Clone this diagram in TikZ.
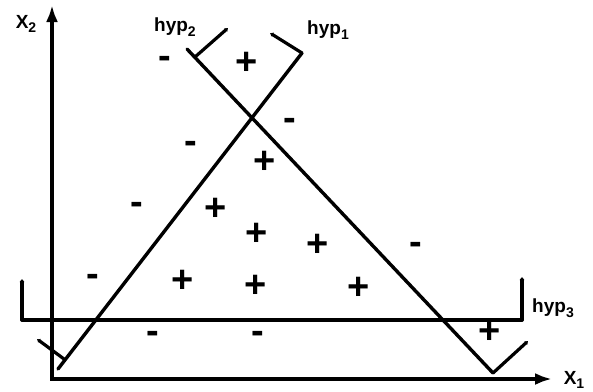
\documentclass[tikz,border=0pt]{standalone}
\usepackage{fontspec}
\setmainfont{Liberation Sans}
\usetikzlibrary{arrows.meta}
\newcommand{\indice}[1]{\raisebox{-4.5pt}{\fontsize{14}{14}\selectfont #1}}
\tikzset{
  eixo/.style={line width=3.4pt, -{Latex[length=17pt,width=12pt]}},
  hiper/.style={line width=3.4pt, line cap=round},
  marca/.style={line width=3.2pt, line cap=round, -{Latex[length=3pt,width=5pt]}},
  rotulo/.style={font=\bfseries\fontsize{19}{21}\selectfont, inner sep=0pt},
  sinal/.style={font=\bfseries\fontsize{38}{38}\selectfont, inner sep=0pt},
}

\begin{document}
\begin{tikzpicture}[x=1pt, y=-1pt]
  \useasboundingbox (0,0) rectangle (593,391);

  % Eixos
  \coordinate (origem) at (52,379);
  \coordinate (topoY) at (52,5);
  \coordinate (fimX) at (552,379);
  \draw[eixo] (origem) -- (topoY);
  \draw[eixo] ([xshift=-1.7pt]origem) -- (fimX);
  \node[rotulo] (rotX2) at (26,24) {X\indice{2}};
  \node[rotulo] (rotX1) at (574,380) {X\indice{1}};

  % hyp1
  \coordinate (h1a) at (58,369);
  \coordinate (h1b) at (302,53);
  \coordinate (h1m) at (270,33);
  \coordinate (h1c) at (64,359);
  \coordinate (h1n) at (37,339);
  \draw[hiper] (h1a) -- (h1b);
  \draw[marca] (h1b) -- (h1m);
  \draw[marca] (h1c) -- (h1n);
  \node[rotulo] (rotH1) at (328,30) {hyp\indice{1}};

  % hyp2
  \coordinate (h2a) at (187,49);
  \coordinate (h2b) at (493,373);
  \coordinate (h2c) at (195,57);
  \coordinate (h2m) at (228,28);
  \coordinate (h2n) at (528,341);
  \draw[hiper] (h2a) -- (h2b);
  \draw[marca] (h2c) -- (h2m);
  \draw[marca] (h2b) -- (h2n);
  \node[rotulo] (rotH2) at (175,27) {hyp\indice{2}};

  % hyp3
  \coordinate (h3a) at (22,320);
  \coordinate (h3b) at (522,320);
  \coordinate (h3m) at (22,279);
  \coordinate (h3n) at (522,277);
  \draw[hiper] (h3a) -- (h3b);
  \draw[marca] (h3a) -- (h3m);
  \draw[marca] (h3b) -- (h3n);
  \node[rotulo] (rotH3) at (553,308) {hyp\indice{3}};

  % Exemplos
  \node[sinal] (m1) at (165,62) {-};
  \node[sinal] (p1) at (247,63) {+};
  \node[sinal] (m2) at (290,124) {-};
  \node[sinal] (m3) at (191,147) {-};
  \node[sinal] (p2) at (265,162) {+};
  \node[sinal] (m4) at (137,208) {-};
  \node[sinal] (p3) at (216,209) {+};
  \node[sinal] (p4) at (257,234) {+};
  \node[sinal] (p5) at (318,245) {+};
  \node[sinal] (m5) at (416,248) {-};
  \node[sinal] (m6) at (93,280) {-};
  \node[sinal] (p6) at (183,281) {+};
  \node[sinal] (p7) at (256,286) {+};
  \node[sinal] (p8) at (359,288) {+};
  \node[sinal] (m7) at (153,337) {-};
  \node[sinal] (m8) at (258,337) {-};
  \node[sinal] (p9) at (490,332) {+};
\end{tikzpicture}
\end{document}
